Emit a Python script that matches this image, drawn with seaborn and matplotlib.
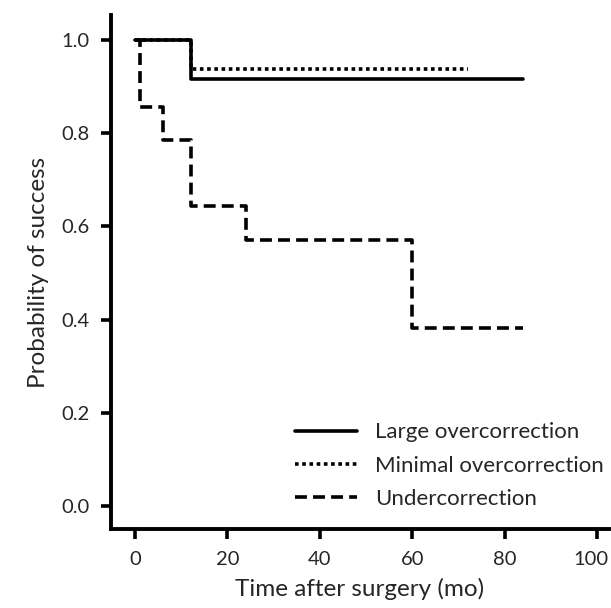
import numpy as np
import pandas as pd
import matplotlib
matplotlib.use("Agg")
import matplotlib.pyplot as plt
import matplotlib.transforms as mtransforms
import seaborn as sns

groups = ["Large overcorrection", "Minimal overcorrection", "Undercorrection"]
large_t = [0, 12, 84]
large_s = [1.0, 0.917, 0.917]
minimal_t = [0, 12, 72]
minimal_s = [1.0, 0.9375, 0.9375]
under_t = [0, 1, 6, 12, 24, 60, 84]
under_s = [1.0, 0.857, 0.786, 0.643, 0.571, 0.381, 0.381]
xticks = [0, 20, 40, 60, 80, 100]
yticks = [0.0, 0.2, 0.4, 0.6, 0.8, 1.0]

df = pd.concat([
    pd.DataFrame({"time": large_t, "surv": large_s, "group": groups[0]}),
    pd.DataFrame({"time": minimal_t, "surv": minimal_s, "group": groups[1]}),
    pd.DataFrame({"time": under_t, "surv": under_s, "group": groups[2]}),
], ignore_index=True)

sns.set_style("ticks")
plt.rcParams["font.family"] = ["Lato", "DejaVu Sans"]

fig = plt.figure(figsize=(6.11, 6.08), dpi=100)
ax = fig.add_axes([0.181, 0.13, 0.815, 0.845])

sns.lineplot(data=df, x="time", y="surv", hue="group", style="group",
             palette={g: "black" for g in groups},
             dashes={groups[0]: "", groups[1]: (1, 1), groups[2]: (3.3, 1.7)},
             drawstyle="steps-post", estimator=None, linewidth=2.6, ax=ax)

ax.set_xlim(-5.3, 102.5)
ax.set_ylim(-0.05, 1.054)
ax.set_xticks(xticks)
ax.set_yticks(yticks)
ax.set_xticklabels([str(v) for v in xticks])
ax.set_yticklabels([f"{v:.1f}" for v in yticks])
ax.tick_params(axis="both", labelsize=14.5, width=2.6, length=7, color="black")
ax.tick_params(axis="x", pad=9)
ax.tick_params(axis="y", pad=8)
# the last x label sits slightly left of its tick in the reference
last = ax.get_xticklabels()[-1]
last.set_transform(last.get_transform() +
                   mtransforms.ScaledTranslation(-6 / 100, 0, fig.dpi_scale_trans))
for s in ["left", "bottom"]:
    ax.spines[s].set_linewidth(2.8)
    ax.spines[s].set_color("black")
sns.despine(ax=ax)
ax.set_xlabel("Time after surgery (mo)", fontsize=17.5, labelpad=7)
ax.set_ylabel("Probability of success", fontsize=17.5, labelpad=9)

leg = ax.legend(loc="lower right", frameon=False, fontsize=16, handlelength=2.8,
                handletextpad=0.8, labelspacing=0.6, bbox_to_anchor=(1.03, 0.0))
for line in leg.get_lines():
    line.set_linewidth(2.6)

fig.savefig("out.png", dpi=100)
